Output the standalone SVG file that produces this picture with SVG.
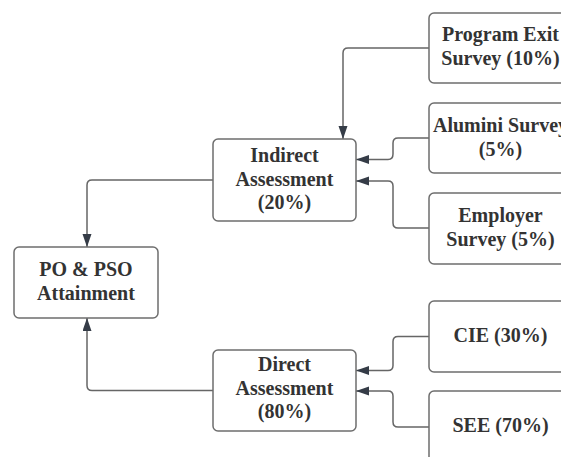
<svg xmlns="http://www.w3.org/2000/svg" width="561" height="457" viewBox="0 0 561 457">
<style>
.box{fill:#ffffff;stroke:#6e6e6e;stroke-width:1.5}
.lbl{font-family:"Liberation Serif","Times New Roman",serif;font-weight:bold;font-size:20px;fill:#333333;text-anchor:middle}
.con{fill:none;stroke:#666666;stroke-width:1.5}
</style>
<defs>
<marker id="arr" markerUnits="userSpaceOnUse" markerWidth="14" markerHeight="10" refX="13" refY="4.5" orient="auto">
<path d="M0,0 L13,4.5 L0,9 z" fill="#353c47"/>
</marker>
</defs>
<rect width="561" height="457" fill="#ffffff"/>
<g id="connectors">
<path class="con" marker-end="url(#arr)" d="M429,48 H348 Q343,48 343,53 V139"/>
<path class="con" marker-end="url(#arr)" d="M429,138 H398 Q393,138 393,143 V154 Q393,159.5 388,159.5 H356"/>
<path class="con" marker-end="url(#arr)" d="M429,228 H398 Q393,228 393,223 V186 Q393,181 388,181 H356"/>
<path class="con" marker-end="url(#arr)" d="M213,180 H92 Q87,180 87,185 V247"/>
<path class="con" marker-end="url(#arr)" d="M213,390.5 H92 Q87,390.5 87,385.5 V318"/>
<path class="con" marker-end="url(#arr)" d="M429,336.5 H398 Q393,336.5 393,341.5 V365.5 Q393,370.5 388,370.5 H356"/>
<path class="con" marker-end="url(#arr)" d="M429,427 H398 Q393,427 393,422 V396 Q393,391 388,391 H356"/>
</g>
<g id="program-exit">
<rect class="box" x="429" y="13" width="143" height="70" rx="5"/>
<text class="lbl" x="500.5" y="41">Program Exit</text>
<text class="lbl" x="500.5" y="65">Survey (10%)</text>
</g>
<g id="alumini">
<rect class="box" x="429" y="103" width="143" height="70" rx="5"/>
<text class="lbl" x="500.5" y="132">Alumini Survey</text>
<text class="lbl" x="500.5" y="156">(5%)</text>
</g>
<g id="employer">
<rect class="box" x="429" y="193" width="143" height="71" rx="5"/>
<text class="lbl" x="500.5" y="221.5">Employer</text>
<text class="lbl" x="500.5" y="245.5">Survey (5%)</text>
</g>
<g id="indirect">
<rect class="box" x="213" y="139" width="143" height="82" rx="5"/>
<text class="lbl" x="284.5" y="162">Indirect</text>
<text class="lbl" x="284.5" y="185.5">Assessment</text>
<text class="lbl" x="284.5" y="209">(20%)</text>
</g>
<g id="po-pso">
<rect class="box" x="14" y="247" width="144" height="71" rx="5"/>
<text class="lbl" x="86" y="276">PO &amp; PSO</text>
<text class="lbl" x="86" y="300">Attainment</text>
</g>
<g id="direct">
<rect class="box" x="213" y="350" width="143" height="81" rx="5"/>
<text class="lbl" x="284.5" y="371">Direct</text>
<text class="lbl" x="284.5" y="394.5">Assessment</text>
<text class="lbl" x="284.5" y="418">(80%)</text>
</g>
<g id="cie">
<rect class="box" x="429" y="301" width="143" height="71" rx="5"/>
<text class="lbl" x="500.5" y="342">CIE (30%)</text>
</g>
<g id="see">
<rect class="box" x="429" y="391" width="143" height="72" rx="5"/>
<text class="lbl" x="500.5" y="432">SEE (70%)</text>
</g>
</svg>
